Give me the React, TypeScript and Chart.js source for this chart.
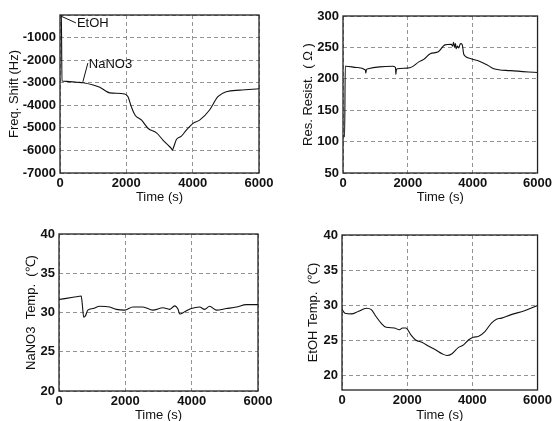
import React, { useEffect, useRef } from "react";
import { Chart, registerables } from "chart.js";
Chart.register(...registerables);

// ---- Data (time in s) ----
const freqTime = [0, 40, 60, 200, 500, 700, 1000, 1200, 1500, 1950, 2050, 2150, 2260, 2460, 2660, 2910, 3110, 3260, 3360, 3390, 3430, 3510, 3660, 3810, 4010, 4210, 4510, 4760, 5015, 5420, 6000];
const freqShift = [-20, -40, -2920, -2940, -2980, -3000, -3100, -3200, -3450, -3500, -3620, -4060, -4430, -4660, -5030, -5220, -5550, -5770, -5920, -5990, -5840, -5520, -5370, -5100, -4800, -4660, -4210, -3620, -3400, -3330, -3270];

const resTime = [0, 50, 70, 100, 420, 690, 705, 720, 775, 1130, 1530, 1620, 1630, 1645, 1680, 1980, 2130, 2340, 2490, 2690, 2940, 3140, 3340, 3380, 3410, 3440, 3470, 3490, 3530, 3570, 3610, 3640, 3680, 3720, 3750, 3950, 4150, 4450, 4650, 5160, 6000];
const resValue = [110, 108, 220, 220, 218, 214, 209, 214, 216, 219, 220, 218, 207, 214, 216, 217, 219, 227, 231, 240, 243, 254, 255, 252, 258, 250, 256, 248, 252, 249, 255, 256, 254, 240, 237, 232, 229, 222, 216, 213, 210];

const nanoTime = [0, 220, 520, 670, 700, 745, 800, 870, 1025, 1225, 1530, 1730, 1980, 2230, 2530, 2830, 3135, 3335, 3490, 3590, 3640, 3790, 3990, 4240, 4390, 4540, 4740, 5045, 5350, 5650, 6000];
const nanoTemp = [31.65, 31.8, 32.0, 32.1, 31.15, 29.4, 29.6, 30.3, 30.5, 30.8, 30.7, 30.4, 30.3, 30.7, 30.7, 30.3, 30.6, 30.4, 30.85, 30.4, 29.8, 30.1, 30.5, 30.7, 30.4, 30.8, 30.3, 30.5, 30.7, 31.0, 31.0];

const etohTime = [0, 90, 290, 495, 750, 900, 1050, 1200, 1355, 1605, 1760, 1860, 1960, 2110, 2260, 2465, 2665, 2870, 3070, 3220, 3375, 3575, 3730, 3880, 4030, 4180, 4385, 4585, 4740, 4890, 5190, 5600, 6000];
const etohTemp = [29.48, 28.9, 28.8, 29.15, 29.6, 29.4, 28.4, 27.5, 26.9, 26.8, 26.55, 26.8, 26.8, 25.85, 25.1, 24.75, 24.2, 23.7, 23.15, 22.9, 23.15, 24.05, 24.4, 25.1, 25.5, 25.6, 26.3, 27.5, 28.05, 28.2, 28.7, 29.25, 30.0];

const xTicks = [0, 2000, 4000, 6000];

// annotation labels on the frequency panel: [text, leaderStartX, leaderStartY, leaderEndX, leaderEndY]
const freqNotes: [string, number, number, number, number][] = [
  ["EtOH", 30, -50, 480, -350],
  ["NaNO3", 690, -2960, 840, -2130],
];

const TICK_FONT = { family: "'Liberation Sans', Arial, sans-serif", size: 13, weight: "bold" as const };
const TITLE_FONT = { family: "'Liberation Sans', Arial, sans-serif", size: 13 };

const framePlugin = {
  id: "frame",
  afterDatasetsDraw(chart: any) {
    const { ctx, chartArea } = chart;
    ctx.save();
    ctx.strokeStyle = "#222";
    ctx.lineWidth = 1.3;
    ctx.strokeRect(chartArea.left, chartArea.top, chartArea.right - chartArea.left, chartArea.bottom - chartArea.top);
    ctx.restore();
  },
};

function makeNotesPlugin(notes: [string, number, number, number, number][]) {
  return {
    id: "notes",
    afterDatasetsDraw(chart: any) {
      const { ctx, scales } = chart;
      const xs = scales.x, ys = scales.y;
      ctx.save();
      ctx.strokeStyle = "#111";
      ctx.lineWidth = 1;
      ctx.fillStyle = "#111";
      ctx.font = "13px 'Liberation Sans', Arial, sans-serif";
      ctx.textBaseline = "middle";
      ctx.textAlign = "left";
      for (const [t, x1, y1, x2, y2] of notes) {
        const px1 = xs.getPixelForValue(x1), py1 = ys.getPixelForValue(y1);
        const px2 = xs.getPixelForValue(x2), py2 = ys.getPixelForValue(y2);
        ctx.beginPath();
        ctx.moveTo(px1, py1);
        ctx.lineTo(px2, py2);
        ctx.stroke();
        ctx.fillText(t, px2 + 1, py2 + 1);
      }
      ctx.restore();
    },
  };
}

type PanelProps = {
  left: number; top: number; width: number; height: number;
  area: { l: number; r: number; t: number; b: number };
  xs: number[]; ys: number[];
  yMin: number; yMax: number; yStep: number;
  yTitle: string; xTitlePad: number; yTitlePad: number;
  hideTicks?: number[];
  notes?: [string, number, number, number, number][];
};

function Panel(p: PanelProps) {
  const ref = useRef<HTMLCanvasElement>(null);
  useEffect(() => {
    const data = p.xs.map((x, i) => ({ x, y: p.ys[i] }));
    const plugins: any[] = [framePlugin];
    if (p.notes) plugins.push(makeNotesPlugin(p.notes));
    const chart = new Chart(ref.current!, {
      type: "line",
      data: {
        datasets: [{
          data,
          borderColor: "#111",
          borderWidth: 1.1,
          pointRadius: 0,
          cubicInterpolationMode: "monotone",
          fill: false,
        }],
      },
      options: {
        animation: false,
        responsive: false,
        events: [],
        layout: { padding: { left: 0, top: p.area.t, right: p.width - p.area.r, bottom: 0 } },
        plugins: { legend: { display: false }, tooltip: { enabled: false } },
        scales: {
          x: {
            type: "linear",
            min: 0, max: 6000,
            afterFit: (s: any) => { s.height = p.height - p.area.b; },
            afterBuildTicks: (s: any) => { s.ticks = xTicks.map((v) => ({ value: v })); },
            ticks: { font: TICK_FONT, color: "#111", padding: 3, maxRotation: 0, autoSkip: false, callback: (v: any) => String(v) },
            grid: { color: "#777", lineWidth: 0.8, drawTicks: false },
            border: { display: false, dash: [4, 3] },
            title: { display: true, text: "Time (s)", font: TITLE_FONT, color: "#111", padding: { top: 0, bottom: p.xTitlePad } },
          },
          y: {
            type: "linear",
            min: p.yMin, max: p.yMax,
            afterFit: (s: any) => { s.width = p.area.l; },
            ticks: {
              stepSize: p.yStep,
              includeBounds: false,
              font: TICK_FONT, color: "#111", padding: 4,
              callback: (v: any) => (p.hideTicks && p.hideTicks.includes(Number(v)) ? "" : String(v)),
            },
            grid: { color: "#777", lineWidth: 0.8, drawTicks: false },
            border: { display: false, dash: [4, 3] },
            title: { display: true, text: p.yTitle, font: TITLE_FONT, color: "#111", padding: { top: p.yTitlePad, bottom: 0 } },
          },
        },
      },
      plugins,
    } as any);
    return () => chart.destroy();
  }, []);
  return (
    <canvas
      ref={ref}
      width={p.width}
      height={p.height}
      style={{ position: "absolute", left: p.left, top: p.top, width: p.width, height: p.height }}
    />
  );
}

export default function App() {
  return (
    <div style={{ position: "absolute", left: 0, top: 0, width: 555, height: 421, background: "#fff", overflow: "hidden" }}>
      <Panel left={0} top={0} width={278} height={210} area={{ l: 60, r: 259, t: 15, b: 173 }}
        xs={freqTime} ys={freqShift} yMin={-7000} yMax={0} yStep={1000} hideTicks={[0]}
        yTitle="Freq. Shift (Hz)" xTitlePad={5} yTitlePad={7} notes={freqNotes} />
      <Panel left={280} top={0} width={275} height={210} area={{ l: 63, r: 261, t: 16, b: 173 }}
        xs={resTime} ys={resValue} yMin={50} yMax={300} yStep={50}
        yTitle="Res. Resist.  ( Ω )" xTitlePad={5} yTitlePad={21} />
      <Panel left={0} top={210} width={278} height={211} area={{ l: 59, r: 258, t: 24, b: 181 }}
        xs={nanoTime} ys={nanoTemp} yMin={20} yMax={40} yStep={5}
        yTitle="NaNO3  Temp.  (℃)" xTitlePad={-2} yTitlePad={24} />
      <Panel left={280} top={210} width={275} height={211} area={{ l: 62, r: 260, t: 25, b: 180 }}
        xs={etohTime} ys={etohTemp} yMin={18} yMax={40} yStep={5}
        yTitle="EtOH Temp.  (℃)" xTitlePad={-2} yTitlePad={26} />
    </div>
  );
}
